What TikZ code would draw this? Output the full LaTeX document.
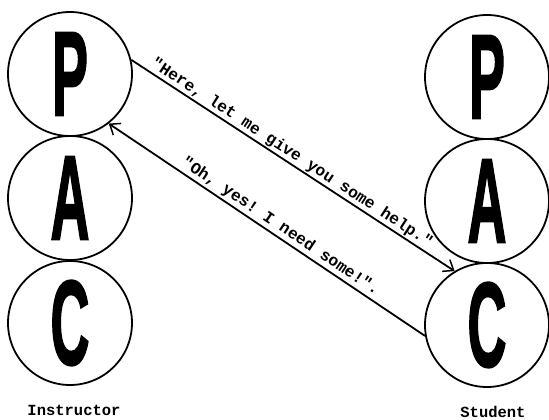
\documentclass[tikz,border=0pt]{standalone}
\usepackage{fontspec}
\setmainfont{Liberation Sans}
\setmonofont{Liberation Mono}
\newfontfamily\bigletter[FakeBold=2]{Liberation Sans Bold}
\usetikzlibrary{arrows.meta}
\begin{document}
\begin{tikzpicture}[x=1pt,y=1pt,
  pac/.style={circle, draw, line width=1.8pt, minimum size=124pt, inner sep=0pt,
    font=\bigletter\fontsize{120}{120}\selectfont},
  conn/.style={line width=1.8pt, -{Straight Barb[length=9pt,width=14pt,line width=1.5pt]}},
  saying/.style={font=\ttfamily\bfseries\fontsize{16.3}{17}\selectfont, sloped, above, inner sep=1pt},
  role/.style={font=\ttfamily\bfseries\fontsize{15.5}{16}\selectfont}]
\useasboundingbox (0,0) rectangle (549,-420);
% instructor
\node[pac] (lP) at (70,-74)  {\scalebox{0.45}[1]{P}};
\node[pac] (lA) at (70,-198) {\scalebox{0.45}[1]{A}};
\node[pac] (lC) at (70,-323) {\scalebox{0.45}[1]{C}};
% student
\node[pac] (rP) at (487,-77)  {\scalebox{0.45}[1]{P}};
\node[pac] (rA) at (487,-201) {\scalebox{0.45}[1]{A}};
\node[pac] (rC) at (487,-325) {\scalebox{0.45}[1]{C}};
% labels
\node[role] (ins) at (74,-410) {Instructor};
\node[role] (stu) at (493,-412) {Student};
% connectors
\draw[conn] (lP.13) -- node[saying, pos=0.48] {"Here, let me give you some help."} (rC.121);
\draw[conn] (rC.190) -- (lP.-52);
\path (lP.-52) -- node[saying, pos=0.525, inner sep=2.5pt] {"Oh, yes!  I need some!".} (rC.190);
\end{tikzpicture}
\end{document}
